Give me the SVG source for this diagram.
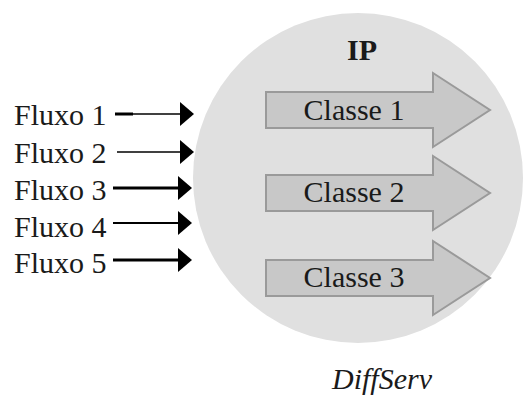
<svg xmlns="http://www.w3.org/2000/svg" width="525" height="399" viewBox="0 0 525 399">
<style>
text{font-family:'Liberation Serif','DejaVu Serif',serif;font-size:30px;fill:#1a1a1a}
.cls{fill:#c8c8c8;stroke:#9a9a9a;stroke-width:2}
.flow{stroke:#000;fill:none}
.head{fill:#000}
</style>
<defs>
<path id="bigArrow" d="M0,-18 H167 V-37 L224,0 L167,37 V18 H0 Z"/>
<path id="smallHead" d="M-14,-12 L0,0 L-14,12 Z"/>
</defs>
<rect width="525" height="399" fill="#fff"/>
<g id="ip">
<circle cx="358" cy="178" r="165" fill="#e0e0e0"/>
<text x="362" y="60" text-anchor="middle" font-weight="bold" font-size="31">IP</text>
</g>
<g id="classe1">
<use href="#bigArrow" x="266" y="110" class="cls"/>
<text x="354" y="120" text-anchor="middle">Classe 1</text>
</g>
<g id="classe2">
<use href="#bigArrow" x="266" y="193" class="cls"/>
<text x="354" y="202" text-anchor="middle">Classe 2</text>
</g>
<g id="classe3">
<use href="#bigArrow" x="266" y="278" class="cls"/>
<text x="354" y="287" text-anchor="middle">Classe 3</text>
</g>
<g id="fluxo1"><text x="14" y="125">Fluxo 1</text></g>
<g id="fluxo2"><text x="14" y="163">Fluxo 2</text></g>
<g id="fluxo3"><text x="14" y="200">Fluxo 3</text></g>
<g id="fluxo4"><text x="14" y="237">Fluxo 4</text></g>
<g id="fluxo5"><text x="14" y="273">Fluxo 5</text></g>
<g id="connectors">
<line class="flow" x1="115" y1="114" x2="133" y2="114" stroke-width="3"/>
<line class="flow" x1="133" y1="114" x2="181" y2="114" stroke-width="1.5"/>
<use href="#smallHead" x="194" y="114" class="head"/>
<line class="flow" x1="117" y1="152" x2="181" y2="152" stroke-width="1.5"/>
<use href="#smallHead" x="194" y="152" class="head"/>
<line class="flow" x1="113" y1="188" x2="180" y2="188" stroke-width="3"/>
<use href="#smallHead" x="192" y="188" class="head"/>
<line class="flow" x1="113" y1="223" x2="180" y2="223" stroke-width="2"/>
<use href="#smallHead" x="192" y="223" class="head"/>
<line class="flow" x1="113" y1="260" x2="180" y2="260" stroke-width="3"/>
<use href="#smallHead" x="192" y="260" class="head"/>
</g>
<g id="diffserv">
<text x="382" y="389" text-anchor="middle" font-style="italic">DiffServ</text>
</g>
</svg>
